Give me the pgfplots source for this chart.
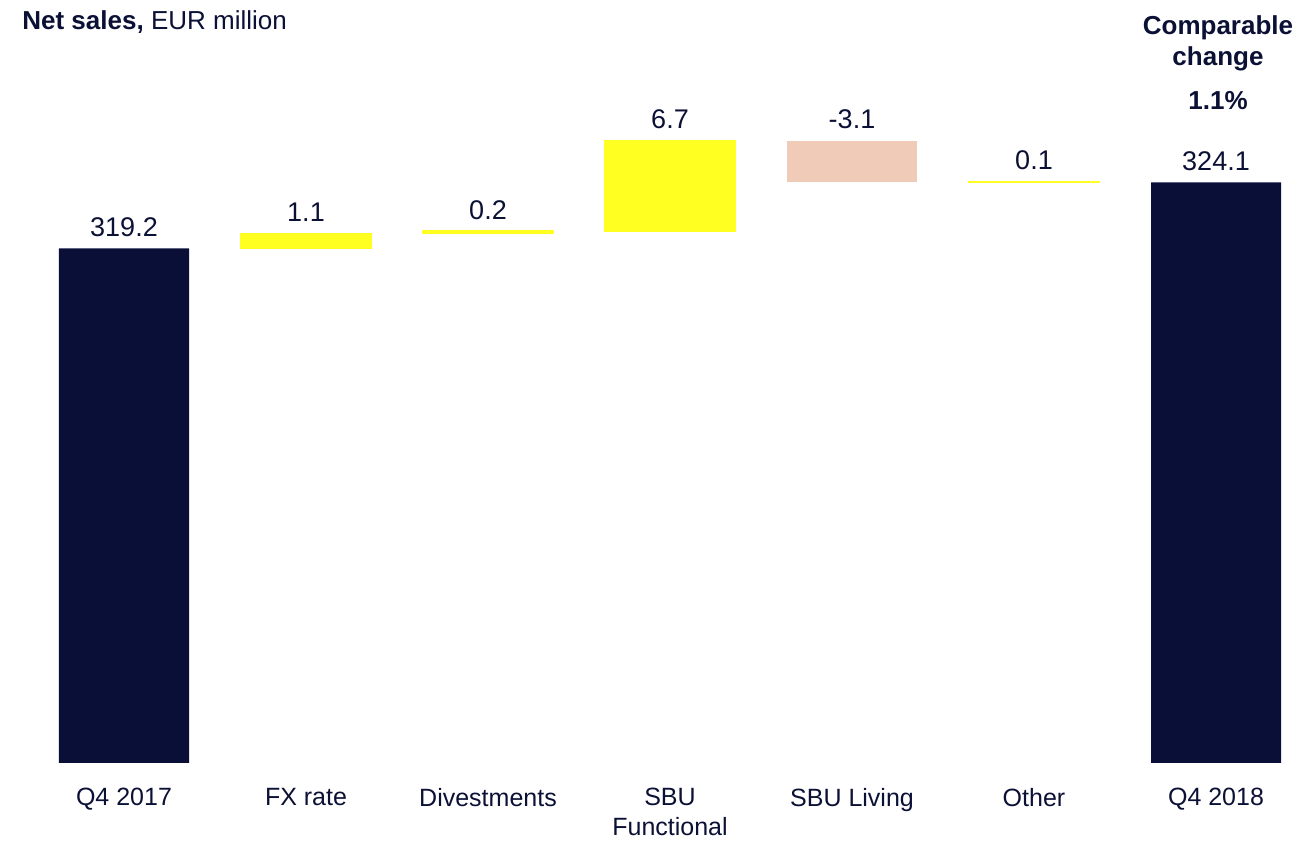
\documentclass[border=0pt]{standalone}
\usepackage{pgfplots}
\pgfplotsset{compat=1.18}
\usepackage{fontspec}
\setmainfont{Liberation Sans}
\definecolor{navy}{HTML}{0A0F37}
\definecolor{txt}{HTML}{0B1035}
\definecolor{yel}{HTML}{FFFF22}
\definecolor{peach}{HTML}{F0CBB8}

\pgfplotsset{wf/.style={
  scale only axis, width=637pt, height=351.5pt,
  xmin=-0.5, xmax=6.5, ymin=281, ymax=333.2,
  ytick=\empty, axis line style={draw=none},
  major tick length=0pt, hide y axis,
}}

\begin{document}
\begin{tikzpicture}
\begin{axis}[wf,
  ybar stacked, bar width=65pt,
  xtick={0,...,6},
  xticklabels={Q4 2017, FX rate, Divestments, SBU\\Functional, SBU Living, Other, Q4 2018},
  xticklabel style={align=center, font=\fontsize{12.5}{15}\selectfont, text=txt, yshift=-9pt},
]
% invisible base of each floating bar
\addplot[draw=none, fill=none] coordinates {(0,0) (1,319.2) (2,320.3) (3,320.5) (4,324.1) (5,324.1) (6,0)};
\addplot[draw=none, fill=navy] coordinates {(0,319.2) (1,0) (2,0) (3,0) (4,0) (5,0) (6,324.1)};
\addplot[draw=yel, line width=0.6pt, fill=yel] coordinates {(0,0) (1,1.1) (2,0.2) (3,6.7) (4,0) (5,0.1) (6,0)};
\addplot[draw=none, fill=peach] coordinates {(0,0) (1,0) (2,0) (3,0) (4,3.1) (5,0) (6,0)};
\end{axis}
% value labels at the top of each bar
\begin{axis}[wf, xtick=\empty, hide x axis]
\addplot[draw=none, mark=none, nodes near coords, point meta=explicit symbolic,
  nodes near coords style={font=\fontsize{13.5}{16}\selectfont, text=txt, anchor=base, inner sep=0pt, yshift=6pt}]
  coordinates {(0,319.2)[319.2] (1,320.3)[1.1] (2,320.5)[0.2] (3,327.2)[6.7] (4,327.2)[-3.1] (5,324.2)[0.1] (6,324.1)[324.1]};
\end{axis}
\node[anchor=base west, text=txt, font=\fontsize{13}{15}\selectfont, inner sep=0pt]
  at ([xshift=-5.5pt, yshift=15pt]current axis.north west) {\textbf{Net sales,} EUR million};
\node[anchor=base, text=txt, font=\fontsize{13}{15}\bfseries, inner sep=0pt]
  at ([xshift=-44.5pt, yshift=12.5pt]current axis.north east) {Comparable};
\node[anchor=base, text=txt, font=\fontsize{13}{15}\bfseries, inner sep=0pt]
  at ([xshift=-44.5pt, yshift=-3pt]current axis.north east) {change};
\node[anchor=base, text=txt, font=\fontsize{13}{15}\bfseries, inner sep=0pt]
  at ([xshift=-44.5pt, yshift=-25pt]current axis.north east) {1.1\%};
\path ([xshift=-16.5pt, yshift=-39pt]current axis.south west) rectangle ([yshift=30pt]current axis.north east);
\end{tikzpicture}
\end{document}
